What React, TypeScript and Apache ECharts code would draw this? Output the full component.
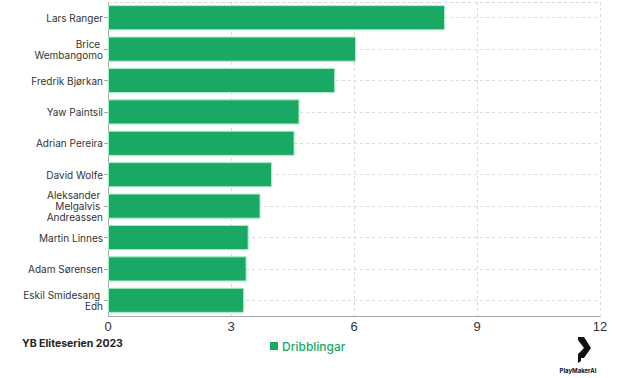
import React, { useEffect, useRef } from "react";
import * as echarts from "echarts";

const players = [
  "Lars Ranger",
  "Brice Wembangomo",
  "Fredrik Bjørkan",
  "Yaw Paintsil",
  "Adrian Pereira",
  "David Wolfe",
  "Aleksander Melgalvis Andreassen",
  "Martin Linnes",
  "Adam Sørensen",
  "Eskil Smidesang Edh",
];
const dribbles = [8.22, 6.05, 5.54, 4.67, 4.55, 4.0, 3.72, 3.43, 3.38, 3.32];
const xTicks = { min: 0, max: 12, interval: 3 };
const seriesName = "Dribblingar";
const title = "YB Eliteserien 2023";
const brand = "PlayMakerAI";

export default function App() {
  const ref = useRef<HTMLDivElement>(null);
  useEffect(() => {
    document.body.style.margin = "0";
    const chart = echarts.init(ref.current!, null, { renderer: "svg" });
    const grid = "#dadada";
    const dash = [3, 3];
    chart.setOption({
      animation: false,
      backgroundColor: "#ffffff",
      title: {
        text: title,
        left: 22,
        top: 338,
        padding: 0,
        textStyle: { fontFamily: "Inter", fontSize: 10.5, fontWeight: "bold", color: "#222" },
      },
      legend: {
        data: [seriesName],
        left: 270,
        top: 340,
        padding: 0,
        icon: "rect",
        itemWidth: 8,
        itemHeight: 8,
        itemGap: 4,
        itemStyle: { borderWidth: 0 },
        textStyle: { fontFamily: "Inter", fontSize: 12, fontWeight: 500, color: "#1aa865", padding: [0, 0, 0, -1] },
      },
      grid: { left: 108, right: 20, top: 2, bottom: 62 },
      xAxis: [
        {
          type: "value",
          min: xTicks.min,
          max: xTicks.max,
          interval: xTicks.interval,
          axisLine: { show: true, lineStyle: { color: "#aaa", width: 1 } },
          axisTick: { show: false },
          axisLabel: { fontFamily: "Liberation Sans", fontSize: 13, color: "#333", margin: 4 },
          splitLine: { show: true, lineStyle: { type: dash, color: grid } },
        },
        {
          type: "value",
          position: "top",
          min: xTicks.min,
          max: xTicks.max,
          axisLine: { show: true, lineStyle: { color: grid, type: dash } },
          axisTick: { show: false },
          axisLabel: { show: false },
          splitLine: { show: false },
        },
      ],
      yAxis: {
        type: "category",
        data: players,
        inverse: true,
        axisLine: { show: true, lineStyle: { color: "#aaa" } },
        axisTick: { show: true, alignWithLabel: true, length: 4, lineStyle: { color: "#aaa" } },
        axisLabel: {
          fontFamily: "Inter",
          fontSize: 10,
          color: "#333",
          margin: 5,
          width: 85,
          overflow: "break",
          lineHeight: 11,
          align: "right",
        },
        splitLine: { show: true, alignWithLabel: true, lineStyle: { type: dash, color: grid } },
      },
      series: [
        {
          name: seriesName,
          type: "bar",
          data: dribbles,
          barCategoryGap: "20%",
          itemStyle: { color: "#1aa865", borderColor: "#a6eec6", borderWidth: 1 },
        },
      ],
      graphic: [
        {
          type: "polygon",
          shape: {
            points: [
              [578, 337],
              [584, 337],
              [591, 348],
              [584, 358],
              [581, 358],
              [581, 361],
              [578, 363],
              [578, 354],
              [584, 348],
              [578, 340],
            ],
          },
          style: { fill: "#111" },
        },
        {
          type: "text",
          x: 578,
          y: 370,
          style: {
            text: brand,
            fontFamily: "Inter",
            fontSize: 6,
            fontWeight: "bold",
            fill: "#111",
            textAlign: "center",
            textVerticalAlign: "middle",
          },
        },
      ],
    });
    return () => chart.dispose();
  }, []);
  return <div ref={ref} style={{ position: "absolute", left: 0, top: 0, width: 620, height: 378 }} />;
}
